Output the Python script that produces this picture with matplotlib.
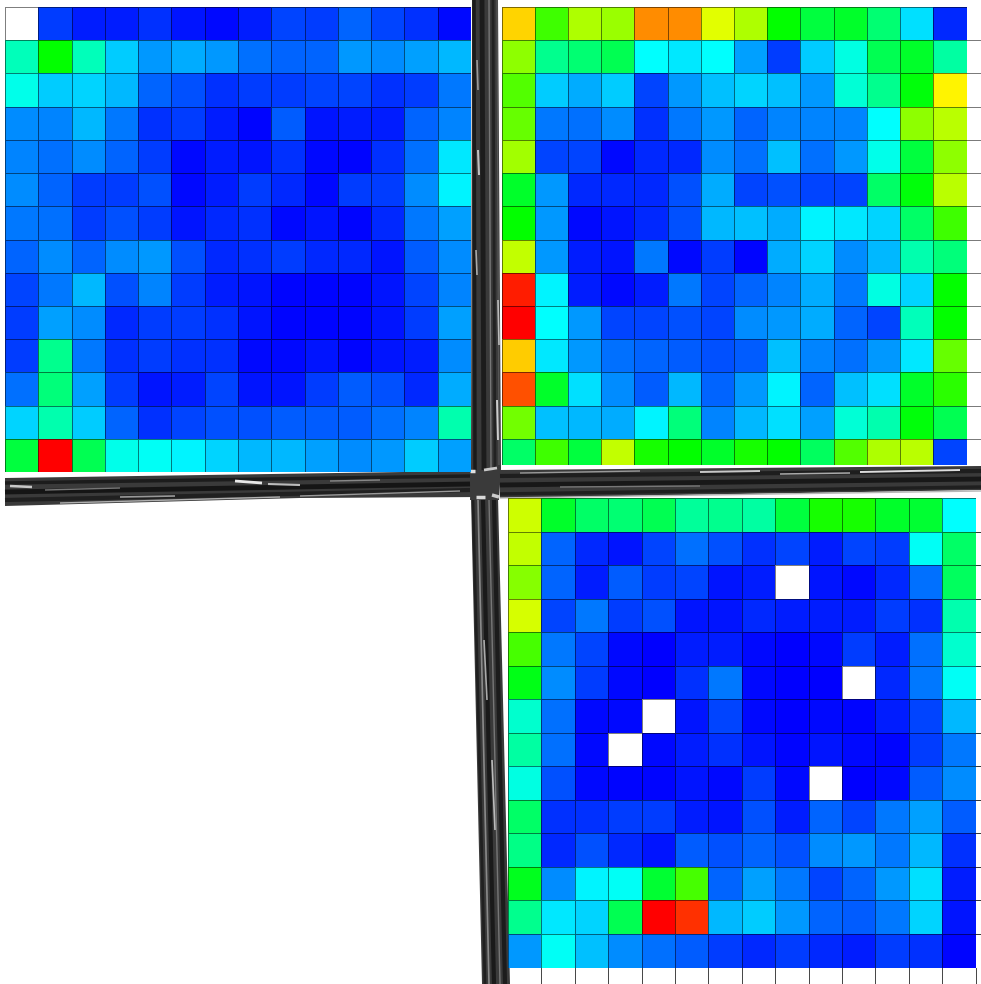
import numpy as np
import matplotlib
matplotlib.use("Agg")
import matplotlib.pyplot as plt
from matplotlib.colors import LinearSegmentedColormap
from matplotlib.patches import Polygon

N = np.nan
panel_a = [
 [N,6,3,3,5,2,1,3,7,6,10,7,5,1],
 [32,50,32,20,15,17,15,11,10,10,15,14,16,18],
 [27,20,21,18,10,8,5,6,6,7,7,5,6,12],
 [14,13,18,12,5,6,3,.5,9,2,3,3,10,13],
 [13,11,14,10,6,1,3,2,5,1,.5,5,11,23],
 [14,10,6,6,8,1,3,6,4,1,6,6,14,24],
 [12,11,6,8,6,2,4,5,1,2,.5,4,12,16],
 [10,14,10,14,15,8,4,5,6,4,4,2,9,14],
 [7,12,18,8,13,6,3,2,.5,.5,.5,2,7,13],
 [6,16,14,4,6,6,5,2,.5,.5,.5,2,6,16],
 [6,36,12,5,6,5,5,1,1,2,.5,2,3,14],
 [11,38,16,6,2,3,7,2,2,6,9,8,4,17],
 [21,33,20,10,5,7,8,8,9,9,9,11,13,33],
 [44,100,42,27,26,24,21,18,18,16,14,15,20,16],
]
panel_b = [
 [79,56,67,65,86,86,72,67,50,44,46,39,22,4],
 [64,36,39,42,25,23,25,16,6,20,28,42,46,34],
 [58,20,17,20,7,15,19,21,19,15,29,36,49,76],
 [60,12,11,14,5,12,15,10,13,13,13,25,64,68],
 [66,7,7,1,4,4,14,11,19,11,15,27,44,64],
 [46,15,4,4,4,8,17,7,8,7,7,40,49,68],
 [50,15,1,2,4,8,18,19,17,24,23,21,40,56],
 [69,15,3,2,12,1,6,.5,17,21,14,18,33,38],
 [97,24,3,1,3,12,7,10,13,17,12,28,21,50],
 [100,25,15,7,7,8,7,14,15,17,10,7,32,50],
 [80,23,15,11,10,9,8,9,19,13,11,15,23,60],
 [92,46,22,14,9,18,10,15,24,10,19,22,46,54],
 [61,19,18,17,24,38,13,18,22,16,29,33,49,42],
 [40,56,44,69,52,50,46,52,50,41,58,67,68,7],
]
panel_c = [
 [70,46,40,39,42,35,36,34,44,52,52,46,45,25],
 [69,10,4,2,7,11,8,5,7,3,7,6,26,40],
 [63,10,3,9,6,7,2,3,N,2,1,4,11,41],
 [71,7,12,6,8,2,2,4,3,3,3,6,5,33],
 [57,12,7,1,0,3,3,1,0,1,6,3,11,30],
 [48,14,6,1,0,5,12,1,0,0,N,4,12,26],
 [30,11,1,1,N,2,7,1,0,1,.5,3,7,18],
 [34,11,1,N,1,3,5,2,.5,2,1,.5,6,12],
 [28,8,1,.5,.5,2,1,6,1,N,0,1,9,14],
 [40,5,5,6,6,3,2,8,3,10,7,12,16,9],
 [37,4,8,4,2,9,8,10,8,14,15,12,18,5],
 [47,14,24,26,45,57,10,16,12,7,10,15,22,3],
 [36,23,21,42,100,95,18,20,15,10,9,12,21,2],
 [15,26,19,14,11,9,6,4,6,4,3,6,5,.5],
]

W, H = 981, 984
cmap = LinearSegmentedColormap.from_list(
    "rainbow5", ["#0000ff", "#00ffff", "#00ff00", "#ffff00", "#ff0000"])
cmap.set_bad("white")

fig = plt.figure(figsize=(W/100, H/100), dpi=100, facecolor="white")
bg = fig.add_axes([0, 0, 1, 1])
bg.set_xlim(0, W); bg.set_ylim(H, 0); bg.axis("off")

BAR = "#3a3a3a"
bars = [
    [(472, 0), (498, 0), (501, 469), (499, 500), (470, 500), (471, 470)],
    [(5, 478), (470, 471), (484, 471), (484, 497), (300, 498), (5, 506)],
    [(500, 470), (981, 466), (981, 490), (500, 498)],
    [(471, 497), (498, 497), (510, 984), (482, 984)],
]
for p in bars:
    bg.add_patch(Polygon(p, closed=True, fc=BAR, ec="none", zorder=1))
# dark ridges and pale scratches on the metal
streaks = [
    ((474, 0), (475, 470), "#1a1a1a", 2.5), ((482, 0), (484, 470), "#1c1c1c", 3.5),
    ((489, 0), (491, 470), "#777777", 1.0), ((493, 0), (495, 470), "#222222", 2.0),
    ((497, 0), (499, 465), "#555555", 1.0),
    ((473, 500), (485, 984), "#202020", 2.0), ((478, 500), (489, 984), "#8a8a8a", 1.2),
    ((483, 500), (494, 984), "#1a1a1a", 3.0), ((489, 500), (500, 984), "#777777", 1.0),
    ((494, 500), (505, 984), "#1c1c1c", 3.0),
    ((5, 483), (470, 476), "#1c1c1c", 2.5), ((5, 492), (470, 484), "#151515", 3.5),
    ((5, 500), (470, 490), "#202020", 3.0),
    ((500, 476), (981, 471), "#1e1e1e", 3.0), ((500, 485), (981, 479), "#181818", 3.5),
    ((500, 494), (981, 487), "#1f1f1f", 2.5),
    ((10, 486), (32, 487), "#c8c8c8", 1.8), ((45, 490), (120, 488), "#777777", 1.0),
    ((120, 497), (175, 496), "#999999", 1.2), ((235, 481), (262, 483), "#e8e8e8", 2.0),
    ((268, 484), (300, 485), "#bbbbbb", 1.5), ((330, 481), (380, 480), "#888888", 1.0),
    ((60, 503), (280, 497), "#b0b0b0", 1.0), ((300, 496), (460, 491), "#999999", 1.0),
    ((520, 473), (640, 471), "#999999", 1.0), ((700, 472), (760, 471), "#c8c8c8", 1.4),
    ((780, 474), (850, 473), "#aaaaaa", 1.1), ((860, 472), (960, 470), "#dddddd", 1.4),
    ((560, 487), (700, 486), "#777777", 1.0), ((500, 498), (981, 491), "#b8b8b8", 1.0),
    ((478, 150), (479, 175), "#c0c0c0", 1.5), ((477, 60), (478, 90), "#999999", 1.2),
    ((498, 300), (499, 345), "#bbbbbb", 1.2), ((476, 250), (477, 275), "#aaaaaa", 1.2),
    ((497, 400), (498, 440), "#cccccc", 1.4), ((484, 640), (487, 700), "#aaaaaa", 1.2),
    ((492, 760), (495, 830), "#bbbbbb", 1.2),
    ((470, 471), (475, 471), "#e0e0e0", 2.5), ((484, 470), (497, 468), "#c8c8c8", 2.0),
    ((476, 497), (485, 497), "#d8d8d8", 2.5), ((492, 495), (499, 497), "#cccccc", 2.5),
]
for a, b, c, lw in streaks:
    bg.plot([a[0], b[0]], [a[1], b[1]], color=c, lw=lw, zorder=2, solid_capstyle="butt")

def panel(values, x0, x1, y0, y1, y_shown=None):
    vals = np.array(values, float)
    nr, nc = vals.shape
    y_end = y1 if y_shown is None else y_shown
    ax = fig.add_axes([x0/W, 1 - y_end/H, (x1-x0)/W, (y_end-y0)/H])
    ax.pcolormesh(np.arange(nc+1), np.arange(nr+1), vals, cmap=cmap, vmin=0, vmax=100,
                  edgecolors="#00000080", linewidth=0.6)
    ax.set_xlim(0, nc)
    ax.set_ylim((y_end-y0)/(y1-y0)*nr, 0)
    ax.axis("off")

panel(panel_a, 5, 471, 7, 472)
panel(panel_b, 501.5, 966.5, 7, 472, y_shown=465)
panel(panel_c, 508, 975.5, 498, 967.5)

# grid ticks that run on past the coloured cells
pitch_b = 465/14
for i in range(1, 14):
    y = 7 + i*pitch_b
    bg.plot([966.5, W], [y, y], color="#777777", lw=0.7, zorder=3)
pitch_c = 469.5/14
for i in range(1, 14):
    y = 498 + i*pitch_c
    bg.plot([975.5, W], [y, y], color="#333333", lw=0.7, zorder=3)
for i in range(1, 15):
    x = 508 + i*467.5/14
    bg.plot([x, x], [967.5, H], color="#444444", lw=0.7, zorder=3)

fig.savefig("out.png", dpi=100, facecolor="white")
